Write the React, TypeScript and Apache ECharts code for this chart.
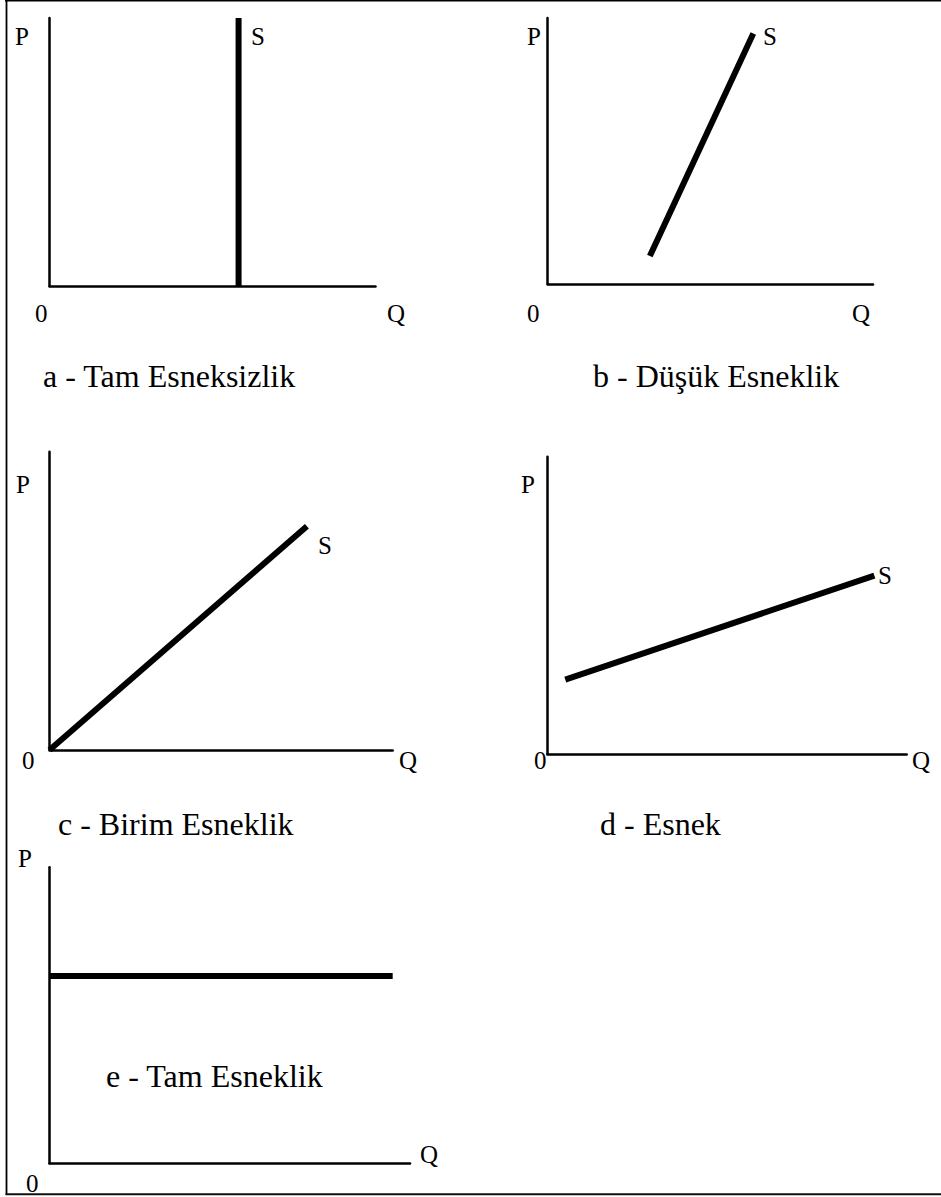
import React, { useEffect, useRef } from "react";
import * as echarts from "echarts";

// Supply curves for the five elasticity cases, as [Q, P] pairs on a 0–100 scale.
const supplyA = [[58, 0], [58, 100]]; // perfectly inelastic
const supplyB = [[31.4, 10.5], [63.2, 94.2]]; // low elasticity
const supplyC = [[0, 0], [75, 75]]; // unit elasticity
const supplyD = [[5, 25], [91, 60]]; // elastic
const supplyE = [[0, 63.3], [95.2, 63.3]]; // perfectly elastic

const captions = [
  "a - Tam Esneksizlik",
  "b - Düşük Esneklik",
  "c - Birim Esneklik",
  "d - Esnek",
  "e - Tam Esneklik",
];
const priceLabel = "P";
const quantityLabel = "Q";
const originLabel = "0";
const supplyLabel = "S";

const FONT_FAMILY = "'Liberation Serif', 'Times New Roman', serif";

// panel boxes in pixels: left, top, width, height
const panels = [
  { left: 49.5, top: 18, width: 326, height: 268 },
  { left: 547.7, top: 18, width: 325.3, height: 266 },
  { left: 49.5, top: 451.7, width: 343.2, height: 298.3 },
  { left: 547.3, top: 456.7, width: 359.4, height: 297.3 },
  { left: 49.5, top: 867.3, width: 360.5, height: 296 },
];

// text placements: x (left), baseline y, font size
const textItems: { text: string; x: number; y: number; size: number }[] = [
  { text: priceLabel, x: 15, y: 45, size: 25 },
  { text: supplyLabel, x: 251, y: 45, size: 25 },
  { text: originLabel, x: 35, y: 322, size: 25 },
  { text: quantityLabel, x: 387, y: 322, size: 25 },
  { text: captions[0], x: 43, y: 387, size: 32 },

  { text: priceLabel, x: 527, y: 45, size: 25 },
  { text: supplyLabel, x: 763, y: 45, size: 25 },
  { text: originLabel, x: 527, y: 322, size: 25 },
  { text: quantityLabel, x: 852, y: 322, size: 25 },
  { text: captions[1], x: 593, y: 387, size: 32 },

  { text: priceLabel, x: 16, y: 493, size: 25 },
  { text: supplyLabel, x: 318, y: 554, size: 25 },
  { text: originLabel, x: 22, y: 769, size: 25 },
  { text: quantityLabel, x: 399, y: 769, size: 25 },
  { text: captions[2], x: 58, y: 835, size: 32 },

  { text: priceLabel, x: 521, y: 493, size: 25 },
  { text: supplyLabel, x: 878, y: 584, size: 25 },
  { text: originLabel, x: 534, y: 769, size: 25 },
  { text: quantityLabel, x: 912, y: 769, size: 25 },
  { text: captions[3], x: 600, y: 835, size: 32 },

  { text: priceLabel, x: 18, y: 867, size: 25 },
  { text: quantityLabel, x: 420, y: 1163, size: 25 },
  { text: originLabel, x: 26, y: 1192, size: 25 },
  { text: captions[4], x: 106, y: 1087, size: 32 },
];

const supplies = [supplyA, supplyB, supplyC, supplyD, supplyE];

export default function App() {
  const ref = useRef<HTMLDivElement>(null);

  useEffect(() => {
    if (!ref.current) return;
    const chart = echarts.init(ref.current, null, { renderer: "svg" });

    const axisBase = {
      type: "value" as const,
      min: 0,
      max: 100,
      axisLabel: { show: false },
      axisTick: { show: false },
      splitLine: { show: false },
      axisLine: { show: true, onZero: false, lineStyle: { color: "#000", width: 2.5 } },
    };

    const option: any = {
      animation: false,
      backgroundColor: "#fff",
      grid: panels.map((p) => ({ ...p, containLabel: false })),
      xAxis: panels.map((_, i) => ({ ...axisBase, gridIndex: i })),
      yAxis: panels.map((_, i) => ({ ...axisBase, gridIndex: i })),
      series: supplies.map((d, i) => ({
        type: "line",
        xAxisIndex: i,
        yAxisIndex: i,
        data: d,
        symbol: "none",
        silent: true,
        clip: false,
        lineStyle: { color: "#000", width: 6, cap: "butt" },
      })),
      graphic: [
        // frame
        { type: "line", shape: { x1: 5, y1: 0.8, x2: 941, y2: 0.8 }, style: { stroke: "#000", lineWidth: 1.6 } },
        { type: "line", shape: { x1: 6.5, y1: 0, x2: 6.5, y2: 1195 }, style: { stroke: "#000", lineWidth: 1.8 } },
        { type: "line", shape: { x1: 5.6, y1: 1194.3, x2: 941, y2: 1194.3 }, style: { stroke: "#111", lineWidth: 2 } },
        ...textItems.map((t) => ({
          type: "text",
          x: t.x,
          y: t.y - 0.34 * t.size,
          style: {
            text: t.text,
            fontFamily: FONT_FAMILY,
            fontSize: t.size,
            fill: "#000",
            align: "left",
            verticalAlign: "middle",
          },
        })),
      ],
    };

    chart.setOption(option);
    return () => chart.dispose();
  }, []);

  return (
    <div
      ref={ref}
      style={{ position: "fixed", left: 0, top: 0, width: 941, height: 1197, background: "#fff" }}
    />
  );
}
